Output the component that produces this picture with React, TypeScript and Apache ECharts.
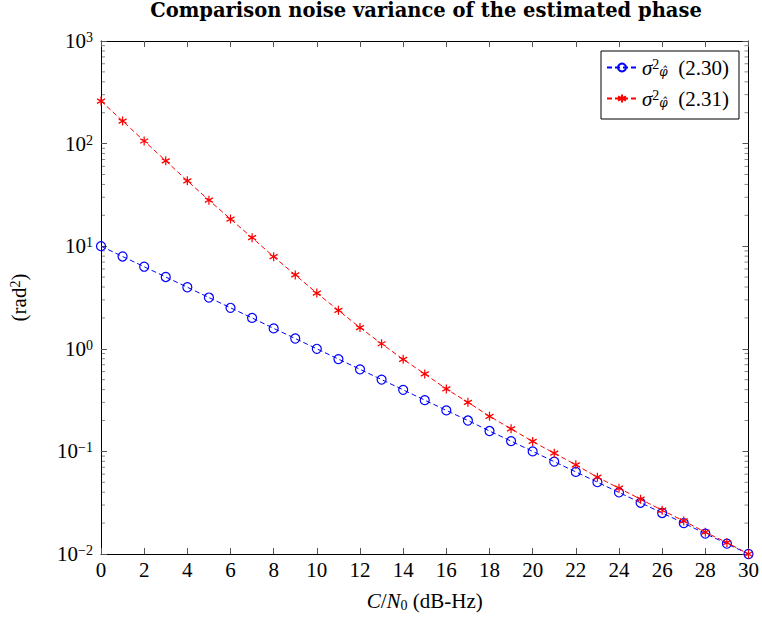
import React, { useEffect, useRef } from "react";
import * as echarts from "echarts";

const cn0 = [0, 1, 2, 3, 4, 5, 6, 7, 8, 9, 10, 11, 12, 13, 14, 15, 16, 17, 18, 19, 20, 21, 22, 23, 24, 25, 26, 27, 28, 29, 30];
const varEq230 = [10, 7.94, 6.31, 5.01, 3.98, 3.16, 2.51, 2.0, 1.58, 1.26, 1.0, 0.794, 0.631, 0.501, 0.398, 0.316, 0.251, 0.2, 0.158, 0.126, 0.1, 0.0794, 0.0631, 0.0501, 0.0398, 0.0316, 0.0251, 0.02, 0.0158, 0.0126, 0.01];
const varEq231 = [260, 166, 106, 68, 43.4, 28.1, 18.4, 12.1, 7.9, 5.25, 3.49, 2.37, 1.61, 1.12, 0.789, 0.569, 0.406, 0.301, 0.22, 0.166, 0.125, 0.096, 0.074, 0.056, 0.0438, 0.0342, 0.0267, 0.021, 0.0163, 0.0129, 0.01];
const seriesNames = ["eq230", "eq231"];
const seriesLabels = ["(2.30)", "(2.31)"];
const minorDecades = [0.01, 0.1, 1, 10, 100];
const minorMultipliers = [2, 3, 4, 5, 6, 7, 8, 9];

const FONT = "Liberation Serif";
const ASTERISK = "path://M5,0 L5,10 M0.67,2.5 L9.33,7.5 M0.67,7.5 L9.33,2.5";

export default function App() {
  const ref = useRef<HTMLDivElement>(null);
  useEffect(() => {
    const chart = echarts.init(ref.current!, null, { renderer: "svg" });
    const toPairs = (ys: number[]) => cn0.map((x, i) => [x, ys[i]]);
    const axisCommon = {
      axisLine: { show: true, onZero: false, lineStyle: { color: "#000", width: 1 } },
      axisTick: { show: true, inside: true, length: 6, lineStyle: { color: "#555", width: 1 } },
      splitLine: { show: false },
    };
    const option: any = {
      animation: false,
      backgroundColor: "#fff",
      title: {
        text: "Comparison noise variance of the estimated phase",
        left: 426,
        top: 0,
        textAlign: "center",
        padding: 0,
        textStyle: { fontFamily: "DejaVu Serif", fontWeight: "bold", fontSize: 19.5, color: "#000" },
      },
      grid: { left: 100, right: 10, top: 41, bottom: 65, containLabel: false },
      legend: {
        right: 23,
        top: 51,
        orient: "vertical",
        data: seriesNames,
        itemWidth: 30,
        itemHeight: 10,
        itemGap: 10,
        padding: [6, 10, 10, 5],
        borderColor: "#000",
        borderWidth: 1,
        backgroundColor: "#fff",
        textStyle: {
          fontFamily: FONT,
          fontSize: 21,
          color: "#000",
          rich: {
            s: { fontFamily: FONT, fontStyle: "italic", fontSize: 21, color: "#000" },
            p: { fontFamily: FONT, fontSize: 14, color: "#000", verticalAlign: "top", lineHeight: 14 },
            q: { fontFamily: "DejaVu Serif", fontStyle: "italic", fontSize: 12, color: "#000", verticalAlign: "bottom", lineHeight: 14, padding: [6, 0, 0, 0] },
            t: { fontFamily: FONT, fontSize: 21, color: "#000" },
          },
        },
        formatter: (name: string) => {
          const i = seriesNames.indexOf(name);
          return `{s|σ}{p|2}{q|φ̂}{t|  ${seriesLabels[i]}}`;
        },
      },
      xAxis: [
        {
          type: "value",
          position: "bottom",
          min: 0,
          max: 30,
          interval: 2,
          ...axisCommon,
          axisLabel: { fontFamily: FONT, fontSize: 21, color: "#000", margin: 5 },
          name: "{i|C}/{i|N}{s|0} (dB-Hz)",
          nameLocation: "middle",
          nameGap: 36,
          nameTextStyle: {
            fontFamily: FONT,
            fontSize: 21,
            color: "#000",
            rich: {
              i: { fontFamily: FONT, fontStyle: "italic", fontSize: 21, color: "#000" },
              s: { fontFamily: FONT, fontSize: 14, color: "#000", verticalAlign: "bottom", padding: [8, 0, 0, 0] },
            },
          },
        },
        {
          type: "value",
          position: "top",
          min: 0,
          max: 30,
          interval: 2,
          ...axisCommon,
          axisLabel: { show: false },
        },
      ],
      yAxis: [
        {
          type: "log",
          logBase: 10,
          min: 0.01,
          max: 1000,
          splitNumber: 5,
          position: "left",
          ...axisCommon,
          axisLabel: {
            fontFamily: FONT,
            fontSize: 21,
            color: "#000",
            margin: 8,
            formatter: (v: number) => {
              const e = Math.round(Math.log10(v));
              return `{b|10}{e|${e < 0 ? "\u2212" + -e : e}}`;
            },
            rich: {
              b: { fontFamily: FONT, fontSize: 21, color: "#000" },
              e: { fontFamily: FONT, fontSize: 14, color: "#000", verticalAlign: "top", lineHeight: 14 },
            },
          },
          name: "(rad{e|2})",
          nameLocation: "middle",
          nameGap: 72,
          nameTextStyle: {
            fontFamily: FONT,
            fontSize: 21,
            color: "#000",
            rich: { e: { fontFamily: FONT, fontSize: 14, color: "#000", verticalAlign: "top", lineHeight: 14 } },
          },
        },
        {
          type: "log",
          logBase: 10,
          min: 0.01,
          max: 1000,
          splitNumber: 5,
          position: "right",
          ...axisCommon,
          axisLabel: { show: false },
        },
      ],
      series: [
        {
          name: seriesNames[0],
          type: "line",
          xAxisIndex: 0,
          yAxisIndex: 0,
          data: toPairs(varEq230),
          symbol: "circle",
          symbolSize: 9,
          itemStyle: { color: "rgba(255,255,255,0)", borderColor: "#0000ff", borderWidth: 1.2 },
          lineStyle: { color: "#0000ff", width: 1, type: [5, 3] },
        },
        {
          name: seriesNames[1],
          type: "line",
          xAxisIndex: 0,
          yAxisIndex: 0,
          data: toPairs(varEq231),
          symbol: ASTERISK,
          symbolSize: [8, 9],
          itemStyle: { color: "rgba(255,255,255,0)", borderColor: "#ff0000", borderWidth: 1.3 },
          lineStyle: { color: "#ff0000", width: 1, type: [5, 3] },
        },
      ],
    };
    chart.setOption(option);

    const xl = chart.convertToPixel({ xAxisIndex: 0 }, 0) as number;
    const xr = chart.convertToPixel({ xAxisIndex: 0 }, 30) as number;
    const graphics: any[] = [];
    minorDecades.forEach((d) => {
      minorMultipliers.forEach((m) => {
        const y = chart.convertToPixel({ yAxisIndex: 0 }, m * d) as number;
        graphics.push({ type: "line", silent: true, shape: { x1: xl, y1: y, x2: xl + 4, y2: y }, style: { stroke: "#888", lineWidth: 1 } });
        graphics.push({ type: "line", silent: true, shape: { x1: xr, y1: y, x2: xr - 4, y2: y }, style: { stroke: "#888", lineWidth: 1 } });
      });
    });
    chart.setOption({ graphic: graphics });
    return () => chart.dispose();
  }, []);
  return <div ref={ref} style={{ position: "absolute", left: 0, top: 0, width: 762, height: 619 }} />;
}
